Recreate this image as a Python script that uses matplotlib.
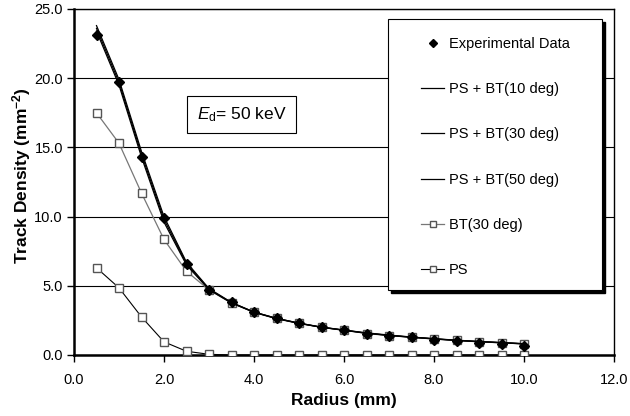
import matplotlib
matplotlib.use("Agg")
import matplotlib.pyplot as plt
from matplotlib.patches import Rectangle

plt.rcParams['font.family'] = ['Liberation Sans', 'DejaVu Sans']
plt.rcParams['mathtext.fontset'] = 'custom'
plt.rcParams['mathtext.rm'] = 'Liberation Sans'
plt.rcParams['mathtext.it'] = 'Liberation Sans:italic'
plt.rcParams['mathtext.bf'] = 'Liberation Sans:bold'

radius = [0.5, 1.0, 1.5, 2.0, 2.5, 3.0, 3.5, 4.0, 4.5, 5.0,
          5.5, 6.0, 6.5, 7.0, 7.5, 8.0, 8.5, 9.0, 9.5, 10.0]
experimental = [23.1, 19.7, 14.3, 9.9, 6.6, 4.7, 3.8, 3.1, 2.65, 2.3,
                2.0, 1.8, 1.55, 1.4, 1.28, 1.05, 1.02, 0.87, 0.8, 0.62]
ps_bt10 = [23.8, 19.9, 14.7, 10.0, 6.7, 4.8, 3.8, 3.1, 2.65, 2.3,
           2.02, 1.8, 1.6, 1.44, 1.3, 1.18, 1.07, 0.98, 0.9, 0.82]
ps_bt30 = [23.6, 19.7, 14.5, 9.8, 6.6, 4.75, 3.78, 3.1, 2.64, 2.3,
           2.0, 1.8, 1.58, 1.42, 1.29, 1.17, 1.06, 0.97, 0.89, 0.81]
ps_bt50 = [23.4, 19.5, 14.3, 9.6, 6.5, 4.72, 3.76, 3.08, 2.62, 2.28,
           2.0, 1.78, 1.57, 1.41, 1.28, 1.16, 1.05, 0.96, 0.88, 0.8]
bt30 = [17.5, 15.3, 11.7, 8.35, 6.05, 4.7, 3.75, 3.1, 2.65, 2.3,
        2.0, 1.8, 1.55, 1.4, 1.28, 1.15, 1.05, 0.95, 0.88, 0.8]
ps = [6.3, 4.85, 2.75, 0.95, 0.27, 0.05, 0, 0, 0, 0,
      0, 0, 0, 0, 0, 0, 0, 0, 0, 0]

xticks = [0, 2, 4, 6, 8, 10, 12]
yticks = [0, 5, 10, 15, 20, 25]

fig = plt.figure(figsize=(6.3, 4.16), dpi=100)
W, H = 630, 416
ax = fig.add_axes([74 / W, 1 - 355 / H, 540 / W, 346 / H])

ax.plot(radius, ps, color='black', lw=0.8, marker='s', ms=6,
        mfc='white', mec='#555555', mew=1, label='PS', zorder=3)
ax.plot(radius, bt30, color='#777777', lw=0.9, marker='s', ms=6,
        mfc='white', mec='#555555', mew=1, label='BT(30 deg)', zorder=3)
ax.plot(radius, ps_bt10, color='black', lw=0.9, label='PS + BT(10 deg)', zorder=4)
ax.plot(radius, ps_bt30, color='black', lw=0.9, label='PS + BT(30 deg)', zorder=4)
ax.plot(radius, ps_bt50, color='black', lw=0.9, label='PS + BT(50 deg)', zorder=4)
ax.plot(radius, experimental, ls='none', marker='D', ms=5.5, color='black',
        label='Experimental Data', zorder=5)

ax.set_xlim(0, 12)
ax.set_ylim(0, 25)
ax.set_xticks(xticks)
ax.set_yticks(yticks)
ax.set_xticklabels([f"{v:.1f}" for v in xticks])
ax.set_yticklabels([f"{v:.1f}" for v in yticks])
ax.tick_params(direction='out', length=5, width=1, labelsize=10.5, pad=3)
ax.tick_params(axis='x', pad=8)
ax.yaxis.grid(True, color='black', lw=0.8)
ax.set_axisbelow(True)
for s in ['left', 'bottom']:
    ax.spines[s].set_linewidth(1.8)
for s in ['top', 'right']:
    ax.spines[s].set_linewidth(1.0)

ax.set_xlabel('Radius (mm)', fontsize=12.5, fontweight='bold', va='top')
ax.xaxis.set_label_coords(0.5, (355 - 393) / 346)
ax.set_ylabel(r'Track Density (mm$^{\mathbf{-2}}$)', fontsize=12.5,
              fontweight='bold')
ax.yaxis.set_label_coords((33 - 74) / 540, (355 - 176) / 346)

# E_d annotation box
ax.text(241.5 / W, 1 - 114.5 / H, r'$\mathit{E}_{\mathrm{d}}$= 50 keV',
        transform=fig.transFigure, ha='center', va='center', fontsize=12.5,
        bbox=dict(boxstyle='square,pad=0.55', fc='white', ec='black', lw=0.8),
        zorder=6)

# legend frame with drop shadow
lx0, lx1, ly0, ly1 = 388, 602, 19, 290
ax.add_patch(Rectangle(((lx0 + 3) / W, 1 - (ly1 + 3) / H), (lx1 - lx0) / W,
                       (ly1 - ly0) / H, transform=fig.transFigure,
                       fc='black', ec='black', zorder=6, clip_on=False))
ax.add_patch(Rectangle((lx0 / W, 1 - ly1 / H), (lx1 - lx0) / W,
                       (ly1 - ly0) / H, transform=fig.transFigure,
                       fc='white', ec='black', lw=0.8, zorder=7, clip_on=False))

handles, labels = ax.get_legend_handles_labels()
order = [5, 2, 3, 4, 1, 0]
leg = ax.legend([handles[i] for i in order], [labels[i] for i in order],
                loc='upper left', bbox_to_anchor=(421 / W, 1 - 37 / H),
                bbox_transform=fig.transFigure, frameon=False, fontsize=10.5,
                handlelength=1.6, handletextpad=0.3, labelspacing=2.14,
                borderpad=0, borderaxespad=0, markerscale=0.8)
leg.set_zorder(8)

fig.savefig('out.png', dpi=100)
